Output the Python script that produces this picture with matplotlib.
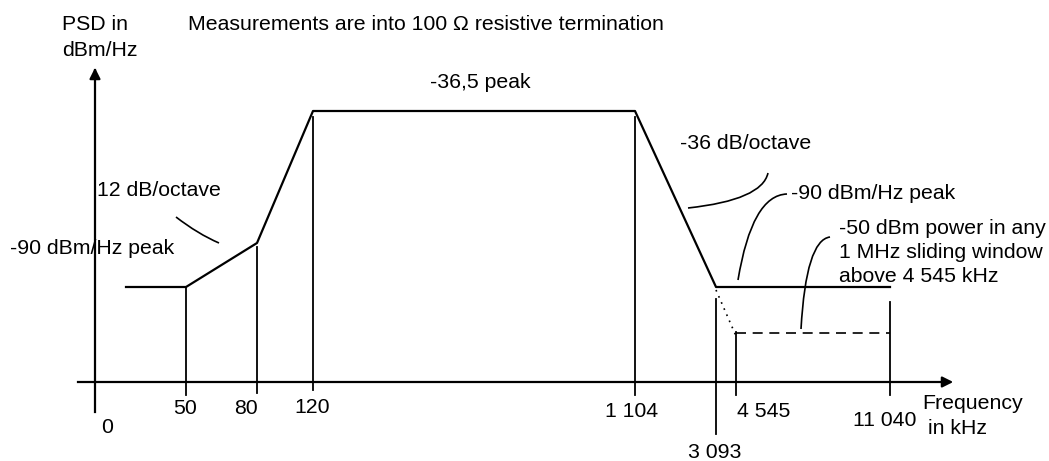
import matplotlib
matplotlib.use("Agg")
import matplotlib.pyplot as plt
from matplotlib.path import Path
from matplotlib.patches import PathPatch

plt.rcParams['font.family'] = ['Liberation Sans', 'DejaVu Sans']

# frequency breakpoints (kHz) and their tick labels
freqs = [0, 50, 80, 120, 1104, 3093, 4545, 11040]
freq_labels = ["0", "50", "80", "120", "1 104", "3 093", "4 545", "11 040"]

# PSD mask (dBm/Hz): in-band mask and out-of-band limits
mask_freqs = [25, 50, 80, 120, 1104, 3093, 11040]
mask_psd = [-90, -90, -81.9, -36.5, -36.5, -90, -90]
oob_freqs = [3093, 4545, 11040]
oob_psd = [-90, -110, -110]

# schematic layout (not to scale): where each value sits on the drawing
x_of = {0: 95, 25: 126, 50: 186, 80: 257, 120: 313, 1104: 635,
        3093: 716, 4545: 736, 11040: 890}
y_of = {-90: 287, -81.9: 243, -36.5: 111, -110: 333}
tick_top = {0: 70, 50: 287, 80: 247, 120: 117, 1104: 117, 3093: 299,
            4545: 332, 11040: 302}
tick_bot = {0: 412, 50: 395, 80: 393, 120: 390, 1104: 395, 3093: 434,
            4545: 395, 11040: 395}
label_xy = {0: (107, 427), 50: (185, 408), 80: (246, 408), 120: (312, 407),
            1104: (632, 411), 3093: (715, 452), 4545: (764, 411),
            11040: (885, 420)}

fig = plt.figure(figsize=(10.49, 4.61), dpi=100)
ax = fig.add_axes([0, 0, 1, 1])
ax.set_xlim(0, 1049)
ax.set_ylim(461, 0)
ax.axis('off')

fs = 15.3

# axes with arrows
ax.plot([78, 945], [382, 382], color='black', lw=1.6)
ax.annotate('', xy=(956, 382), xytext=(940, 382),
            arrowprops=dict(arrowstyle='-|>', color='black', lw=1.6,
                            mutation_scale=16))
ax.annotate('', xy=(95, 65), xytext=(95, 82),
            arrowprops=dict(arrowstyle='-|>', color='black', lw=1.6,
                            mutation_scale=16))

# vertical tick lines and labels
for f, lab in zip(freqs, freq_labels):
    ax.plot([x_of[f], x_of[f]], [tick_top[f], tick_bot[f]], color='black',
            lw=1.6 if f == 0 else 1.3)
    lx, ly = label_xy[f]
    ax.text(lx, ly, lab, fontsize=fs, ha='center', va='center')

# mask
ax.plot([x_of[f] for f in mask_freqs], [y_of[p] for p in mask_psd],
        color='black', lw=1.6)
ax.plot([x_of[f] for f in oob_freqs[:2]], [y_of[p] + 3 for p in oob_psd[:2]],
        color='black', lw=1.2, ls=(0, (1, 3)))
ax.plot([x_of[f] for f in oob_freqs[1:]], [y_of[p] for p in oob_psd[1:]],
        color='black', lw=1.2, ls=(0, (6, 4)))


def leader(p0, c, p1):
    path = Path([p0, c, p1], [Path.MOVETO, Path.CURVE3, Path.CURVE3])
    ax.add_patch(PathPatch(path, fill=False, color='black', lw=1.2))


leader((176, 217), (198, 234), (219, 243))
leader((688, 208), (762, 200), (768, 173))
leader((738, 280), (752, 195), (787, 194))
leader((801, 329), (806, 240), (830, 237))


def lines(x, ys, texts):
    for y, t in zip(ys, texts):
        ax.text(x, y, t, fontsize=fs, ha='left', va='center')


# texts
lines(62, [24, 50], ["PSD in", "dBm/Hz"])
ax.text(188, 24, "Measurements are into 100 \u03a9 resistive termination",
        fontsize=fs, va='center', ha='left')
ax.text(480, 82, "-36,5 peak", fontsize=fs, ha='center', va='center')
ax.text(97, 190, "12 dB/octave", fontsize=fs, ha='left', va='center')
ax.text(10, 248, "-90 dBm/Hz peak", fontsize=fs, ha='left', va='center')
ax.text(680, 143, "-36 dB/octave", fontsize=fs, ha='left', va='center')
ax.text(791, 193, "-90 dBm/Hz peak", fontsize=fs, ha='left', va='center')
lines(839, [228, 252, 276],
      ["-50 dBm power in any", "1 MHz sliding window", "above 4 545 kHz"])
ax.text(922, 403, "Frequency", fontsize=fs, ha='left', va='center')
ax.text(928, 428, "in kHz", fontsize=fs, ha='left', va='center')

fig.savefig("out.png", dpi=100)
